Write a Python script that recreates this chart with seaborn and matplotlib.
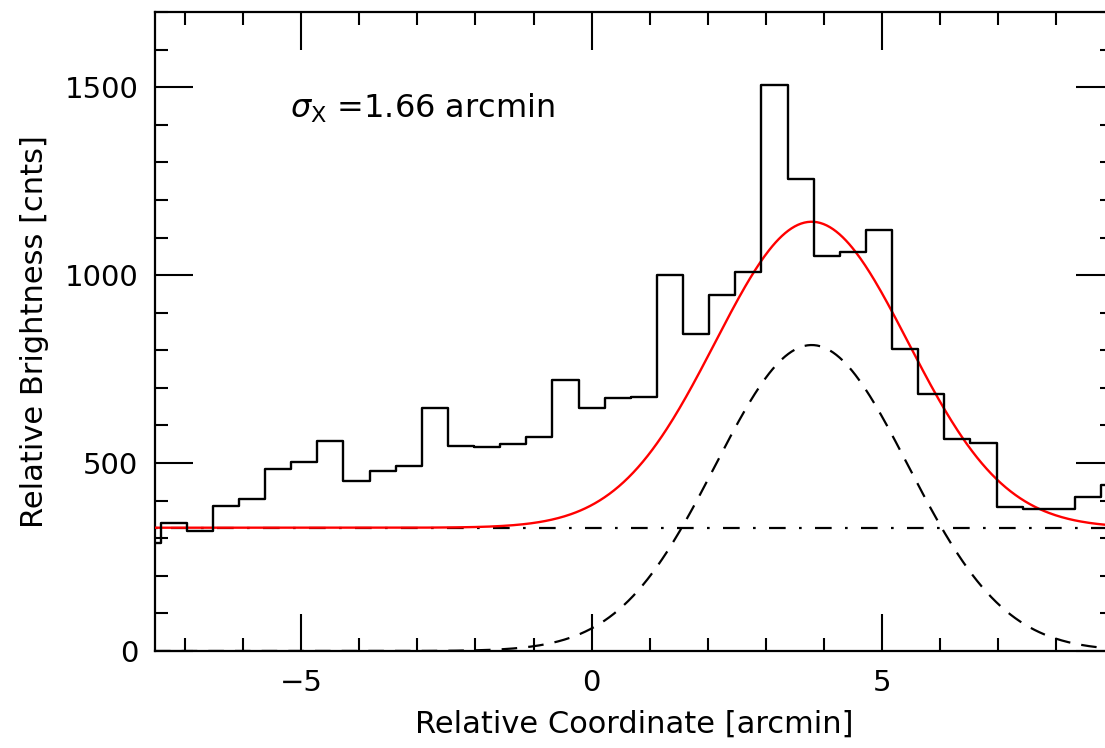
import numpy as np
import pandas as pd
import matplotlib
matplotlib.use("Agg")
import matplotlib.pyplot as plt
import seaborn as sns

# ---- data ----
bin_width = 0.45                      # arcmin
bin_index = np.arange(-17, 21)        # bin centres = index * bin_width
counts = [287, 341, 319, 385, 404, 483, 503, 560, 453, 480,
          493, 647, 546, 542, 550, 568, 721, 646, 672, 677,
          1000, 843, 947, 1007, 1505, 1257, 1052, 1061, 1121, 803,
          683, 563, 553, 384, 377, 377, 411, 442]

# Gaussian + constant fit parameters
fit_baseline = 328.0
fit_amplitude = 814.0
fit_center = 3.79
fit_sigma = 1.66

x_limits = (-7.52, 8.98)
y_limits = (0, 1700)
x_major = [-5, 0, 5]
y_major = [0, 500, 1000, 1500]
label_text = r"$\sigma_{\rm X}$ =1.66 arcmin"

# ---- frames ----
hist_df = pd.DataFrame({"x": bin_index * bin_width, "y": counts})
xg = np.linspace(x_limits[0], x_limits[1], 600)
gauss = fit_amplitude * np.exp(-0.5 * ((xg - fit_center) / fit_sigma) ** 2)
model_df = pd.DataFrame({"x": xg, "total": fit_baseline + gauss,
                         "gauss": gauss, "base": np.full_like(xg, fit_baseline)})

# ---- style ----
sns.set_theme(style="ticks")
plt.rcParams["font.family"] = ["DejaVu Sans"]
plt.rcParams["mathtext.fontset"] = "dejavusans"
plt.rcParams["text.color"] = "black"
plt.rcParams["axes.labelcolor"] = "black"

fig = plt.figure(figsize=(11.05, 7.48), dpi=100)
ax = fig.add_axes([155 / 1105, (748 - 651) / 748, (1113 - 155) / 1105, (651 - 12) / 748])

sns.lineplot(data=model_df, x="x", y="base", ax=ax, color="black", lw=1.6,
             linestyle=(0, (1.2, 6.0, 7.5, 6.0)), zorder=2)
sns.lineplot(data=model_df, x="x", y="gauss", ax=ax, color="black", lw=1.6,
             linestyle=(0, (7, 5)), zorder=2)
sns.lineplot(data=model_df, x="x", y="total", ax=ax, color="red", lw=1.7, zorder=3)
sns.lineplot(data=hist_df, x="x", y="y", ax=ax, color="black", lw=1.7,
             drawstyle="steps-mid", zorder=4)

ax.set_xlim(*x_limits)
ax.set_ylim(*y_limits)
ax.set_xticks(x_major)
ax.set_xticklabels(["\u22125", "0", "5"])
ax.set_yticks(y_major)
ax.set_xticks(np.arange(-7, 9, 1), minor=True)
ax.set_yticks(np.arange(0, 1701, 100), minor=True)

ax.tick_params(which="both", direction="in", top=True, right=True,
               width=1.5, colors="black", labelsize=21)
ax.tick_params(which="major", length=27)
ax.tick_params(which="minor", length=9.5)
ax.tick_params(axis="x", which="major", pad=13)
ax.tick_params(axis="y", which="major", pad=12)
for s in ax.spines.values():
    s.set_linewidth(1.6)
    s.set_color("black")

ax.set_xlabel("Relative Coordinate [arcmin]", fontsize=22, labelpad=9)
ax.set_ylabel("Relative Brightness [cnts]", fontsize=22, labelpad=11)

ax.text(0.141, 0.85, label_text, transform=ax.transAxes, fontsize=23,
        va="center", ha="left")

fig.savefig("out.png", dpi=100)
